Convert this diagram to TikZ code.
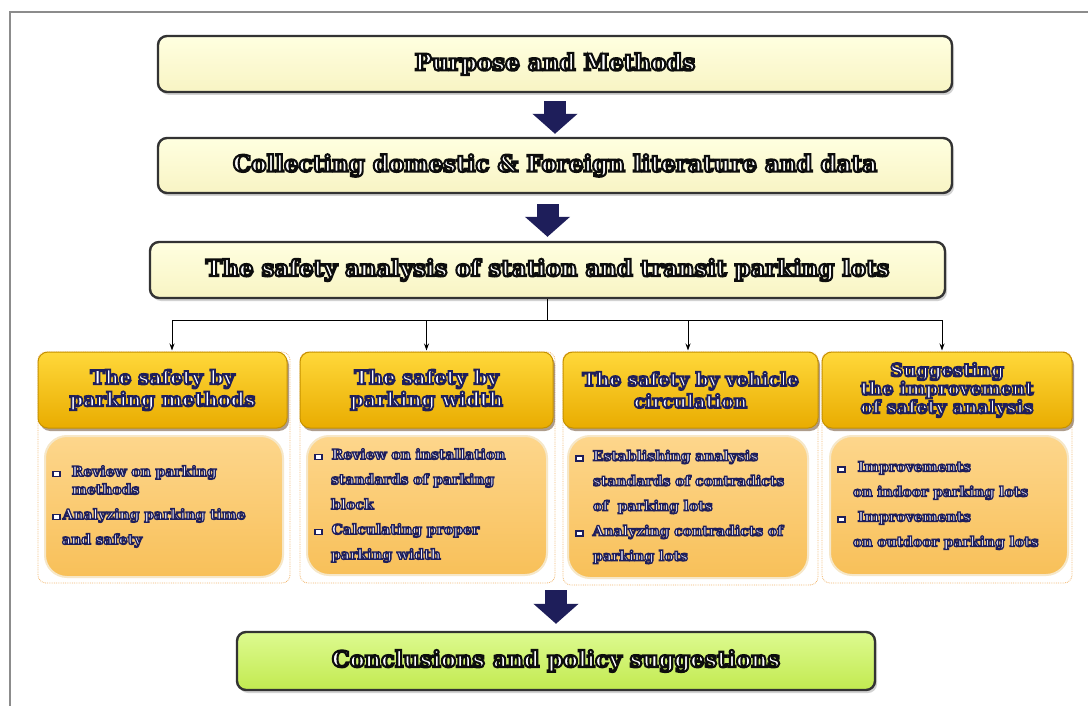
\documentclass[tikz,border=0pt]{standalone}
\usepackage{fontspec}
\setmainfont{DejaVu Serif}
\usetikzlibrary{shadows,arrows.meta}
\definecolor{navy}{HTML}{1E1E5A}
\definecolor{creamtop}{HTML}{FFFFE0}
\definecolor{creambot}{HTML}{F8F4C4}
\definecolor{goldtop}{HTML}{FFD83A}
\definecolor{goldbot}{HTML}{E9AC00}
\definecolor{golddraw}{HTML}{C69200}
\definecolor{peachtop}{HTML}{FDD68C}
\definecolor{peachbot}{HTML}{F8C059}
\definecolor{peachdraw}{HTML}{F6E7C8}
\definecolor{limetop}{HTML}{DDFA90}
\definecolor{limebot}{HTML}{C2EA50}
\definecolor{dotorange}{HTML}{F2B870}
\definecolor{bulfill}{HTML}{F2F2FF}
\newcommand\olx[3]{{\special{pdf:literal direct 2 Tr #2 w #1 RG}#3\special{pdf:literal direct 0 Tr}}}
\newcommand\olk[1]{\olx{0.05 0.05 0.05}{2.1}{#1}}
\newcommand\oln[1]{\olx{0.12 0.12 0.36}{1.8}{#1}}
\newcommand\olb[1]{\olx{0.12 0.12 0.36}{1.3}{#1}}
\newcommand\bul{\raisebox{0.5pt}{\setlength\fboxsep{0pt}\setlength\fboxrule{1.6pt}\fcolorbox{navy}{white}{\rule{0pt}{3.5pt}\hspace*{5.5pt}}}}
\tikzset{
  mainbox/.style={draw=black!80, line width=2.4pt, rounded corners=9pt,
    top color=creamtop, bottom color=creambot, text=white,
    font=\bfseries\fontsize{23}{28}\selectfont,
    drop shadow={shadow xshift=2pt, shadow yshift=-3pt, opacity=0.35},
    inner sep=0pt},
  endbox/.style={mainbox, top color=limetop, bottom color=limebot},
  headbox/.style={draw=golddraw, line width=1pt, rounded corners=10pt,
    top color=goldtop, bottom color=goldbot, text=white,
    font=\bfseries\fontsize{19.5}{22}\selectfont,
    align=center, inner sep=0pt,
    drop shadow={shadow xshift=2pt, shadow yshift=-3pt, opacity=0.45, fill=black!70!orange}},
  bodybox/.style={draw=peachdraw, line width=2pt, rounded corners=22pt,
    top color=peachtop, bottom color=peachbot, text=bulfill,
    font=\bfseries\fontsize{14}{25}\selectfont,
    align=left, inner xsep=7pt, inner ysep=0pt},
  outerbox/.style={draw=dotorange, densely dotted, line width=0.8pt, rounded corners=8pt, inner sep=0pt},
  bigarrow/.style={draw=navy, line width=22pt, -{Triangle[length=20pt,width=44pt]}},
  conn/.style={draw=black, line width=0.9pt},
  connarrow/.style={conn, -{Stealth[length=7pt,width=5pt]}}
}
\begin{document}
\begin{tikzpicture}[x=1pt,y=-1pt]
\useasboundingbox[fill=white] (0,0) rectangle (1088,706);
% frame
\coordinate (frTR) at (1088,12);
\coordinate (frTL) at (10,12);
\coordinate (frBL) at (10,706);
\draw[black!45, line width=1.5pt] (frTR) -- (frTL) -- (frBL);

% main boxes
\node[mainbox, minimum width=794pt, minimum height=56pt] (p1) at (555,64)
  {\olk{Purpose and Methods}};
\node[mainbox, minimum width=794pt, minimum height=55pt] (p2) at (555,165.5)
  {\olk{Collecting domestic \& Foreign literature and data}};
\node[mainbox, minimum width=795pt, minimum height=56pt, font=\bfseries\fontsize{22.8}{28}\selectfont] (p3) at (547.5,270)
  {\olk{The safety analysis of station and transit parking lots}};
\node[endbox, minimum width=638pt, minimum height=58pt, font=\bfseries\fontsize{22.5}{28}\selectfont] (p4) at (556,661)
  {\olk{Conclusions and policy suggestions}};

% outer dotted frames
\node[outerbox, minimum width=252pt, minimum height=231pt] (o1) at (164,467.5) {};
\node[outerbox, minimum width=255pt, minimum height=231pt] (o2) at (427.5,467.5) {};
\node[outerbox, minimum width=255pt, minimum height=233pt] (o3) at (690.5,468.5) {};
\node[outerbox, minimum width=250pt, minimum height=231pt] (o4) at (947,467.5) {};

% headers
\node[headbox, minimum width=249pt, minimum height=76pt] (h1) at (162.5,390)
  {\oln{The safety by}\\\oln{parking methods}};
\node[headbox, minimum width=253pt, minimum height=76pt] (h2) at (426.5,390)
  {\oln{The safety by}\\\oln{parking width}};
\node[headbox, minimum width=255pt, minimum height=76pt, font=\bfseries\fontsize{18.5}{22}\selectfont] (h3) at (690.5,390)
  {\oln{The safety by vehicle}\\\oln{circulation}};
\node[headbox, minimum width=250pt, minimum height=76pt, font=\bfseries\fontsize{18}{18.5}\selectfont] (h4) at (947,390)
  {\oln{Suggesting}\\\oln{the improvement}\\\oln{of safety analysis}};

% bodies
\node[bodybox, minimum width=238pt, minimum height=141pt, text width=224pt] (b1) at (164,506.5)
  {\bul\hspace*{11pt}\olb{Review on parking}\\[-7pt]
   \hspace*{20pt}\olb{methods}\\
   \bul\hspace*{2pt}\olb{Analyzing parking time}\\
   \hspace*{10pt}\olb{and safety}};
\node[bodybox, minimum width=240pt, minimum height=139pt, text width=226pt] (b2) at (427,505.5)
  {\bul\hspace*{9pt}\olb{Review on installation}\\
   \hspace*{17pt}\olb{standards of parking}\\
   \hspace*{17pt}\olb{block}\\
   \bul\hspace*{9pt}\olb{Calculating proper}\\
   \hspace*{17pt}\olb{parking width}};
\node[bodybox, minimum width=240pt, minimum height=142pt, text width=226pt] (b3) at (688,507)
  {\bul\hspace*{9pt}\olb{Establishing analysis}\\
   \hspace*{18pt}\olb{standards of contradicts}\\
   \hspace*{18pt}\olb{of\ \ parking lots}\\
   \bul\hspace*{9pt}\olb{Analyzing contradicts of}\\
   \hspace*{18pt}\olb{parking lots}};
\node[bodybox, minimum width=238pt, minimum height=139pt, text width=224pt] (b4) at (949,505.5)
  {\bul\hspace*{12pt}\olb{Improvements}\\
   \hspace*{16pt}\olb{on indoor parking lots}\\
   \bul\hspace*{12pt}\olb{Improvements}\\
   \hspace*{16pt}\olb{on outdoor parking lots}};

% big arrows
\draw[bigarrow, shorten <=8pt, shorten >=3pt] (p1.south) -- (p2.north);
\draw[bigarrow, shorten <=10pt, shorten >=4pt] (p3.north |- p2.south) -- (p3.north);
\coordinate (a3s) at (556,590);
\draw[bigarrow, shorten >=7pt] (a3s) -- (a3s |- p4.north);

% connectors to columns
\coordinate (busL) at (172,320);
\coordinate (busR) at (942,320);
\draw[conn] (p3.south) -- (p3.south |- busL);
\draw[conn] (busL) -- (busR);
\draw[connarrow, shorten >=1pt] (busL) -- (busL |- h1.north);
\draw[connarrow, shorten >=1pt] (h2.north |- busL) -- (h2.north);
\coordinate (c3) at (688,320);
\draw[connarrow, shorten >=1pt] (c3) -- (c3 |- h3.north);
\draw[connarrow, shorten >=1pt] (busR) -- (busR |- h4.north);
\end{tikzpicture}
\end{document}
